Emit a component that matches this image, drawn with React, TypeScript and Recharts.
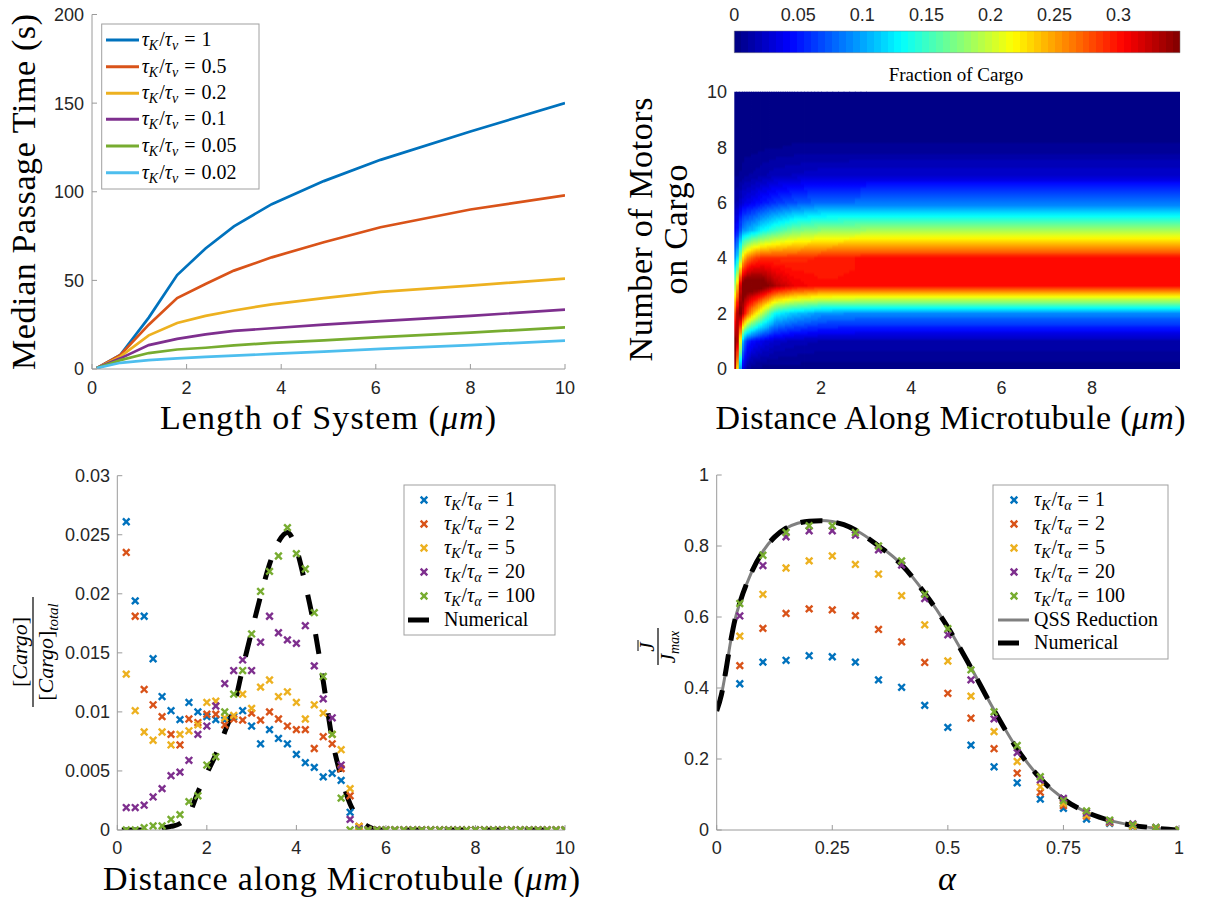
import React from "react";
import { ComposedChart, LineChart, Line, Scatter, XAxis, YAxis, ReferenceArea } from "recharts";

const SERIF = "'Liberation Serif', 'DejaVu Serif', serif";
const SANS = "'Liberation Sans', Arial, sans-serif";
const INK = "#262626";
const AXIS = "#9a9a9a";
const COLORS = ["#0072BD", "#D95319", "#EDB120", "#7E2F8E", "#77AC30", "#4DBEEE"];
const TICK = { fill: INK, fontSize: 18, fontFamily: SANS };
const BIG = 34;

// ---- top left: median passage time vs length
const lengthX = [0.1, 0.6, 1.2, 1.8, 2.4, 3.0, 3.8, 4.9, 6.1, 8.0, 10];
const passageRatios = ["1", "0.5", "0.2", "0.1", "0.05", "0.02"];
const passageR1 = [0.5, 8, 29, 53, 68, 80.5, 93, 106, 118, 134, 150];
const passageR05 = [0.5, 8, 25, 40, 48, 55.5, 63, 71.5, 80, 90, 98];
const passageR02 = [0.5, 7, 19, 26, 30, 33, 36.5, 40, 43.5, 47, 51];
const passageR01 = [0.5, 6, 13.5, 17, 19.5, 21.5, 23, 25, 27, 30, 33.5];
const passageR005 = [0.5, 5, 9, 11, 12, 13.3, 14.7, 16.2, 18, 20.5, 23.5];
const passageR002 = [0.5, 3.5, 5, 6, 6.8, 7.5, 8.5, 9.8, 11.3, 13.5, 16];
const passageSeries = [passageR1, passageR05, passageR02, passageR01, passageR005, passageR002];
const passageTicksX = [0, 2, 4, 6, 8, 10];
const passageTicksY = [0, 50, 100, 150, 200];

// ---- top right: fraction of cargo with n motors along the microtubule
const heatX = [0.08, 0.12, 0.18, 0.25, 0.35, 0.5, 0.7, 1.0, 1.4, 2.0, 3.0, 9.95];
const motorN = [0, 1, 2, 3, 4, 5, 6, 7, 8, 9, 10];
const fracAt008 = [0.36, 0.34, 0.27, 0.17, 0.09, 0.04, 0.015, 0.005, 0, 0, 0];
const fracAt012 = [0.3, 0.36, 0.3, 0.2, 0.1, 0.04, 0.015, 0.005, 0, 0, 0];
const fracAt018 = [0.15, 0.3, 0.36, 0.28, 0.14, 0.06, 0.02, 0.005, 0, 0, 0];
const fracAt025 = [0.04, 0.12, 0.34, 0.36, 0.22, 0.09, 0.03, 0.008, 0.002, 0, 0];
const fracAt035 = [0.01, 0.06, 0.28, 0.37, 0.26, 0.1, 0.035, 0.01, 0.003, 0, 0];
const fracAt05 = [0.003, 0.045, 0.24, 0.37, 0.28, 0.11, 0.04, 0.012, 0.003, 0, 0];
const fracAt07 = [0.002, 0.035, 0.19, 0.36, 0.29, 0.13, 0.05, 0.015, 0.004, 0.001, 0];
const fracAt1 = [0.002, 0.025, 0.13, 0.33, 0.29, 0.15, 0.06, 0.02, 0.005, 0.001, 0];
const fracAt14 = [0.002, 0.02, 0.11, 0.31, 0.29, 0.17, 0.07, 0.022, 0.006, 0.001, 0];
const fracAt2 = [0.002, 0.016, 0.095, 0.3, 0.295, 0.18, 0.08, 0.026, 0.006, 0.001, 0];
const fracAt3 = [0.002, 0.015, 0.09, 0.3, 0.3, 0.185, 0.082, 0.027, 0.006, 0.001, 0];
const fracAt10 = [0.002, 0.015, 0.09, 0.3, 0.3, 0.185, 0.082, 0.027, 0.006, 0.001, 0];
const heatCols = [fracAt008, fracAt012, fracAt018, fracAt025, fracAt035, fracAt05, fracAt07, fracAt1, fracAt14, fracAt2, fracAt3, fracAt10];
const heatTicksX = [2, 4, 6, 8];
const heatTicksY = [0, 2, 4, 6, 8, 10];
const cbTicks = [0, 0.05, 0.1, 0.15, 0.2, 0.25, 0.3];
const cbMax = 0.348;

// ---- bottom left: cargo profile
const cargoX = [0.2, 0.4, 0.6, 0.8, 1, 1.2, 1.4, 1.6, 1.8, 2, 2.2, 2.4, 2.6, 2.8, 3, 3.2, 3.4, 3.6, 3.8, 4, 4.2, 4.4, 4.6, 4.8, 5, 5.2, 5.4, 5.6, 5.8, 6, 6.2, 6.4, 6.6, 6.8, 7, 7.2, 7.4, 7.6, 7.8, 8, 8.2, 8.4, 8.6, 8.8, 9, 9.2, 9.4, 9.6, 9.8, 10];
const cargoRatios = ["1", "2", "5", "20", "100"];
const tail = [0, 0, 0, 0, 0, 0, 0, 0, 0, 0, 0, 0, 0, 0, 0, 0, 0, 0, 0, 0, 0, 0, 0];
const cargoT1 = [0.0261, 0.0194, 0.0181, 0.0145, 0.0113, 0.0101, 0.00935, 0.0108, 0.01, 0.0096, 0.00935, 0.0093, 0.0096, 0.0101, 0.0088, 0.0073, 0.0085, 0.00775, 0.0073, 0.0064, 0.0057, 0.0053, 0.0045, 0.0048, 0.0042, 0.0015, 0.0001, ...tail];
const cargoT2 = [0.0235, 0.0181, 0.0119, 0.0106, 0.0096, 0.0081, 0.0072, 0.0094, 0.0091, 0.0098, 0.0098, 0.0089, 0.0094, 0.0093, 0.0099, 0.0093, 0.01, 0.0094, 0.0088, 0.0085, 0.0085, 0.0069, 0.0079, 0.0073, 0.0052, 0.0029, 0.0003, ...tail];
const cargoT5 = [0.0132, 0.0101, 0.0083, 0.0076, 0.0083, 0.0072, 0.0081, 0.0084, 0.0089, 0.0108, 0.0109, 0.0095, 0.0097, 0.0115, 0.0103, 0.0121, 0.0127, 0.0113, 0.0117, 0.0108, 0.0094, 0.0106, 0.0099, 0.0081, 0.0068, 0.0035, 0.0003, ...tail];
const cargoT20 = [0.0019, 0.0019, 0.0021, 0.0028, 0.0035, 0.0046, 0.0049, 0.0059, 0.0081, 0.0088, 0.0105, 0.0124, 0.0135, 0.0144, 0.0135, 0.0159, 0.0181, 0.0167, 0.0161, 0.0158, 0.0173, 0.0139, 0.0111, 0.0095, 0.0055, 0.0009, 0.0001, ...tail];
const cargoT100 = [0, 0, 0.0002, 0.00035, 0.00035, 0.0009, 0.0013, 0.0024, 0.0029, 0.0055, 0.0062, 0.01, 0.0115, 0.0135, 0.0166, 0.0202, 0.0219, 0.0232, 0.0256, 0.0234, 0.0221, 0.0184, 0.013, 0.0081, 0.0027, 0, 0, ...tail];
const cargoSeries = [cargoT1, cargoT2, cargoT5, cargoT20, cargoT100];
const cargoNumX = [0.1, 0.5, 0.9, 1.0, 1.2, 1.4, 1.6, 1.8, 2.0, 2.2, 2.4, 2.6, 2.8, 3.0, 3.2, 3.4, 3.6, 3.8, 4.0, 4.2, 4.4, 4.6, 4.8, 5.0, 5.2, 5.4, 5.6, 5.8, 6.0, 10];
const cargoNumY = [0, 0, 0.00005, 0.00015, 0.0003, 0.00055, 0.0013, 0.0032, 0.0048, 0.0064, 0.0083, 0.0104, 0.0137, 0.0168, 0.0198, 0.0225, 0.0244, 0.0252, 0.0238, 0.0208, 0.0172, 0.0126, 0.0077, 0.0045, 0.0022, 0.00095, 0.0003, 0.00005, 0, 0];
const cargoTicksX = [0, 2, 4, 6, 8, 10];
const cargoTicksY = [0, 0.005, 0.01, 0.015, 0.02, 0.025, 0.03];

// ---- bottom right: flux vs alpha
const alphaX = [0.05, 0.1, 0.15, 0.2, 0.25, 0.3, 0.35, 0.4, 0.45, 0.5, 0.55, 0.6, 0.65, 0.7, 0.75, 0.8, 0.85, 0.9, 0.95, 1];
const fluxT1 = [0.412, 0.473, 0.478, 0.491, 0.488, 0.473, 0.423, 0.402, 0.351, 0.289, 0.239, 0.178, 0.133, 0.087, 0.061, 0.031, 0.019, 0.009, 0.003, 0];
const fluxT2 = [0.463, 0.568, 0.61, 0.623, 0.62, 0.604, 0.565, 0.53, 0.472, 0.385, 0.315, 0.229, 0.16, 0.106, 0.069, 0.039, 0.021, 0.011, 0.003, 0];
const fluxT5 = [0.546, 0.664, 0.738, 0.758, 0.772, 0.748, 0.721, 0.66, 0.578, 0.476, 0.377, 0.277, 0.193, 0.122, 0.075, 0.042, 0.022, 0.011, 0.004, 0];
const fluxT20 = [0.603, 0.745, 0.826, 0.843, 0.843, 0.831, 0.789, 0.746, 0.652, 0.55, 0.423, 0.313, 0.218, 0.141, 0.089, 0.049, 0.024, 0.017, 0.007, 0];
const fluxT100 = [0.638, 0.774, 0.838, 0.857, 0.857, 0.838, 0.8, 0.758, 0.664, 0.567, 0.451, 0.333, 0.238, 0.15, 0.083, 0.054, 0.028, 0.015, 0.007, 0];
const fluxSeries = [fluxT1, fluxT2, fluxT5, fluxT20, fluxT100];
const curveX = [0, 0.01, 0.02, 0.03, 0.04, 0.05, 0.075, 0.1, 0.125, 0.15, 0.175, 0.2, 0.225, 0.25, 0.275, 0.3, 0.35, 0.4, 0.45, 0.5, 0.55, 0.6, 0.65, 0.7, 0.75, 0.8, 0.85, 0.9, 0.95, 1];
const qssY = [0.335, 0.38, 0.45, 0.53, 0.595, 0.64, 0.725, 0.785, 0.825, 0.85, 0.864, 0.87, 0.872, 0.869, 0.86, 0.845, 0.802, 0.748, 0.668, 0.572, 0.458, 0.338, 0.229, 0.146, 0.088, 0.05, 0.027, 0.013, 0.005, 0];
const numericalY = [0.335, 0.38, 0.45, 0.53, 0.595, 0.64, 0.725, 0.785, 0.825, 0.85, 0.864, 0.87, 0.871, 0.868, 0.86, 0.845, 0.8, 0.747, 0.667, 0.571, 0.457, 0.337, 0.228, 0.145, 0.087, 0.05, 0.027, 0.013, 0.005, 0];
const fluxTicksX = [0, 0.25, 0.5, 0.75, 1];
const fluxTicksY = [0, 0.2, 0.4, 0.6, 0.8, 1];

const pts = (xs: number[], ys: number[]) => xs.map((x, i) => ({ x, y: ys[i] }));

const jet = (t: number) => {
  const c = (v: number) => Math.round(255 * Math.max(0, Math.min(1, v)));
  return `rgb(${c(1.5 - Math.abs(4 * t - 3))},${c(1.5 - Math.abs(4 * t - 2))},${c(1.5 - Math.abs(4 * t - 1))})`;
};
const jet64 = (v: number) => {
  const idx = Math.max(0, Math.min(63, Math.floor((v / cbMax) * 64)));
  return jet((idx + 0.5) / 64);
};

// shading between the measured columns / motor counts (like shading interp)
const strips = (() => {
  const out: { id: string; x1: number; x2: number; col: number[] }[] = [];
  for (let i = 0; i < heatX.length - 1; i++) {
    const a = heatX[i];
    const b = heatX[i + 1];
    const n = i === heatX.length - 2 ? 1 : Math.max(1, Math.min(8, Math.round((b - a) * 20)));
    for (let k = 0; k < n; k++) {
      const w = (k + 0.5) / n;
      out.push({
        id: `hs${out.length}`,
        x1: a + ((b - a) * k) / n,
        x2: Math.min(heatX[heatX.length - 1], a + ((b - a) * (k + 1)) / n + 0.02),
        col: motorN.map((m) => heatCols[i][m] * (1 - w) + heatCols[i + 1][m] * w),
      });
    }
  }
  return out;
})();

const stripStops = (col: number[]) => {
  const stops: { off: number; c: string }[] = [];
  const SUB = 10;
  for (let m = 10; m >= 1; m--) {
    for (let s = 0; s < SUB; s++) {
      const v = col[m] + (col[m - 1] - col[m]) * (s / SUB);
      stops.push({ off: (10 - (m - s / SUB)) / 10, c: jet64(v) });
    }
  }
  stops.push({ off: 1, c: jet64(col[0]) });
  return stops;
};

const xMark = (color: string) => (props: any) => {
  const { cx, cy } = props;
  if (cx == null || cy == null) return <g />;
  const s = 3.3;
  return (
    <g>
      <line x1={cx - s} y1={cy - s} x2={cx + s} y2={cy + s} stroke={color} strokeWidth={2.4} />
      <line x1={cx - s} y1={cy + s} x2={cx + s} y2={cy - s} stroke={color} strokeWidth={2.4} />
    </g>
  );
};
const noMark = () => <g />;

const TauLabel = ({ x, y, sub, val }: { x: number; y: number; sub: string; val: string }) => (
  <text x={x} y={y} fontFamily={SERIF} fontSize={20} fill="#000">
    <tspan fontStyle="italic">τ</tspan>
    <tspan fontStyle="italic" fontSize={14} dy={4}>K</tspan>
    <tspan dy={-4} dx={1}>/</tspan>
    <tspan fontStyle="italic">τ</tspan>
    <tspan fontStyle="italic" fontSize={14} dy={4}>{sub}</tspan>
    <tspan dy={-4} dx={6}>=</tspan>
    <tspan dx={6}>{val}</tspan>
  </text>
);

const abs = (left: number, top: number): React.CSSProperties => ({ position: "absolute", left, top });

export default function App() {
  const legend1Rows = [40, 66.7, 93.3, 119.3, 146, 172.7];
  const legend3Rows = [500, 524, 548, 572, 596, 620];
  const legend4Rows = [500, 524, 548, 572, 596, 620, 643];
  const heatData = heatX.map((x) => ({ x, y: 5 }));
  const cbData = cbTicks.map((x) => ({ x, y: 0.5 }));
  return (
    <div style={{ position: "absolute", left: 0, top: 0, width: 1207, height: 899, background: "#fff", overflow: "hidden" }}>
      <svg width={1} height={1} style={{ position: "absolute", left: 0, top: 0 }}>
        <defs>
          {strips.map((s) => (
            <linearGradient key={s.id} id={s.id} x1="0" y1="0" x2="0" y2="1">
              {stripStops(s.col).map((st, j) => (
                <stop key={j} offset={st.off} stopColor={st.c} />
              ))}
            </linearGradient>
          ))}
          <linearGradient id="cbGrad" x1="0" y1="0" x2="1" y2="0">
            {Array.from({ length: 64 }).flatMap((_, k) => [
              <stop key={`a${k}`} offset={k / 64} stopColor={jet((k + 0.5) / 64)} />,
              <stop key={`b${k}`} offset={(k + 1) / 64} stopColor={jet((k + 0.5) / 64)} />,
            ])}
          </linearGradient>
        </defs>
      </svg>

      {/* top left */}
      <div style={abs(0, 0)}>
        <LineChart width={600} height={420} margin={{ top: 14.5, right: 35, bottom: 11, left: 0 }}>
          <XAxis type="number" dataKey="x" domain={[0, 10]} ticks={passageTicksX} interval={0} allowDataOverflow height={40}
            tickSize={-5} tickMargin={17.5} axisLine={{ stroke: AXIS }} tickLine={{ stroke: AXIS }} tick={TICK} />
          <YAxis type="number" domain={[0, 200]} ticks={passageTicksY} interval={0} allowDataOverflow width={92}
            tickSize={-5} tickMargin={13} axisLine={{ stroke: AXIS }} tickLine={{ stroke: AXIS }} tick={TICK} />
          {passageSeries.map((ys, i) => (
            <Line key={i} data={pts(lengthX, ys)} dataKey="y" type="linear" stroke={COLORS[i]} strokeWidth={2.7}
              dot={false} activeDot={false} isAnimationActive={false} />
          ))}
        </LineChart>
      </div>

      {/* colorbar */}
      <div style={abs(600, 0)}>
        <ComposedChart width={607} height={60} data={cbData} margin={{ top: 0, right: 27, bottom: 7.3, left: 134.3 }}>
          <XAxis type="number" dataKey="x" orientation="top" domain={[0, cbMax]} ticks={cbTicks} interval={0} allowDataOverflow height={31}
            tickSize={0} tickMargin={10.5} axisLine={false} tickLine={false} tick={TICK} />
          <YAxis type="number" dataKey="y" domain={[0, 1]} hide />
          <Scatter dataKey="y" shape={noMark} isAnimationActive={false} />
          <ReferenceArea x1={0} x2={cbMax} y1={0} y2={1} fill="url(#cbGrad)" fillOpacity={1} stroke="#777" strokeWidth={0.5} />
        </ComposedChart>
      </div>

      {/* heatmap */}
      <div style={abs(600, 80)}>
        <ComposedChart width={607} height={340} data={heatData} margin={{ top: 11.7, right: 27, bottom: 11, left: 0 }}>
          <XAxis type="number" dataKey="x" domain={[heatX[0], heatX[heatX.length - 1]]} ticks={heatTicksX} interval={0} allowDataOverflow height={40}
            tickSize={0} tickMargin={12.5} axisLine={false} tickLine={false} tick={TICK} />
          <YAxis type="number" dataKey="y" domain={[0, 10]} ticks={heatTicksY} interval={0} allowDataOverflow width={134.3}
            tickSize={0} tickMargin={7.3} axisLine={false} tickLine={false} tick={TICK} />
          <Scatter dataKey="y" shape={noMark} isAnimationActive={false} />
          {strips.map((s) => (
            <ReferenceArea key={s.id} x1={s.x1} x2={s.x2} y1={0} y2={10} fill={`url(#${s.id})`} fillOpacity={1} stroke="none" />
          ))}
        </ComposedChart>
      </div>

      {/* bottom left */}
      <div style={abs(0, 440)}>
        <ComposedChart width={600} height={440} margin={{ top: 35.7, right: 35, bottom: 10, left: 0 }}>
          <XAxis type="number" dataKey="x" domain={[0, 10]} ticks={cargoTicksX} interval={0} allowDataOverflow height={40}
            tickSize={-5} tickMargin={16.5} axisLine={{ stroke: AXIS }} tickLine={{ stroke: AXIS }} tick={TICK} />
          <XAxis xAxisId="top" dataKey="x" orientation="top" type="number" domain={[0, 10]} ticks={cargoTicksX} interval={0} allowDataOverflow height={0}
            tickSize={-5} axisLine={{ stroke: AXIS }} tickLine={{ stroke: AXIS }} tick={false} />
          <YAxis type="number" dataKey="y" domain={[0, 0.03]} ticks={cargoTicksY} interval={0} allowDataOverflow width={117.3}
            tickSize={-5} tickMargin={12.3} axisLine={{ stroke: AXIS }} tickLine={{ stroke: AXIS }} tick={TICK} />
          <YAxis yAxisId="right" dataKey="y" orientation="right" type="number" domain={[0, 0.03]} ticks={cargoTicksY} interval={0} allowDataOverflow width={0}
            tickSize={-5} axisLine={{ stroke: AXIS }} tickLine={{ stroke: AXIS }} tick={false} />
          <Scatter xAxisId="top" yAxisId="right" data={pts(cargoNumX, cargoNumY)} dataKey="y" shape={noMark} isAnimationActive={false} />
          {cargoSeries.map((ys, i) => (
            <Scatter key={i} data={pts(cargoX, ys)} dataKey="y" shape={xMark(COLORS[i])} isAnimationActive={false} />
          ))}
          <Line data={pts(cargoNumX, cargoNumY)} dataKey="y" type="monotone" stroke="#000" strokeWidth={5}
            strokeDasharray="20 20" dot={false} activeDot={false} isAnimationActive={false} />
        </ComposedChart>
      </div>

      {/* bottom right */}
      <div style={abs(600, 440)}>
        <ComposedChart width={607} height={440} margin={{ top: 35, right: 28, bottom: 10, left: 0 }}>
          <XAxis type="number" dataKey="x" domain={[0, 1]} ticks={fluxTicksX} interval={0} allowDataOverflow height={40}
            tickSize={-5} tickMargin={16.5} axisLine={{ stroke: AXIS }} tickLine={{ stroke: AXIS }} tick={TICK} />
          <YAxis type="number" dataKey="y" domain={[0, 1]} ticks={fluxTicksY} interval={0} allowDataOverflow width={116.7}
            tickSize={-5} tickMargin={12.7} axisLine={{ stroke: AXIS }} tickLine={{ stroke: AXIS }} tick={TICK} />
          {fluxSeries.map((ys, i) => (
            <Scatter key={i} data={pts(alphaX, ys)} dataKey="y" shape={xMark(COLORS[i])} isAnimationActive={false} />
          ))}
          <Line data={pts(curveX, qssY)} dataKey="y" type="monotone" stroke="#808080" strokeWidth={3}
            dot={false} activeDot={false} isAnimationActive={false} />
          <Line data={pts(curveX, numericalY)} dataKey="y" type="monotone" stroke="#000" strokeWidth={5}
            strokeDasharray="22 14" dot={false} activeDot={false} isAnimationActive={false} />
        </ComposedChart>
      </div>

      {/* text + legends */}
      <svg width={1207} height={899} style={{ position: "absolute", left: 0, top: 0, pointerEvents: "none" }}>
        {/* top left labels */}
        <text transform="translate(35,192) rotate(-90)" textAnchor="middle" fontFamily={SERIF} fontSize={BIG} fill="#000"
          textLength={356} lengthAdjust="spacing">
          Median Passage Time (s)
        </text>
        <text x={328} y={429} textAnchor="middle" fontFamily={SERIF} fontSize={BIG} fill="#000" textLength={336} lengthAdjust="spacing">
          Length of System (<tspan fontStyle="italic">μm</tspan>)
        </text>
        <rect x={101.7} y={24} width={157.3} height={165} fill="#fff" stroke="#a0a0a0" strokeWidth={1} />
        {passageRatios.map((r, i) => (
          <g key={r}>
            <line x1={106} x2={139} y1={legend1Rows[i]} y2={legend1Rows[i]} stroke={COLORS[i]} strokeWidth={3} />
            <TauLabel x={141.7} y={legend1Rows[i] + 6} sub="v" val={r} />
          </g>
        ))}

        {/* top right labels */}
        <text x={956} y={81} textAnchor="middle" fontFamily={SERIF} fontSize={19} fill="#000">Fraction of Cargo</text>
        <text transform="translate(652,229.5) rotate(-90)" textAnchor="middle" fontFamily={SERIF} fontSize={BIG} fill="#000"
          textLength={264} lengthAdjust="spacing">
          Number of Motors
        </text>
        <text transform="translate(687,229.5) rotate(-90)" textAnchor="middle" fontFamily={SERIF} fontSize={BIG} fill="#000"
          textLength={130} lengthAdjust="spacing">
          on Cargo
        </text>
        <text x={950.5} y={429} textAnchor="middle" fontFamily={SERIF} fontSize={BIG} fill="#000" textLength={470} lengthAdjust="spacing">
          Distance Along Microtubule (<tspan fontStyle="italic">μm</tspan>)
        </text>

        {/* bottom left labels */}
        <g transform="translate(33,652) rotate(-90)" fontFamily={SERIF} fill="#000">
          <text x={0} y={-6} textAnchor="middle" fontSize={22}>
            [<tspan fontStyle="italic">Cargo</tspan>]
          </text>
          <line x1={-55} x2={55} y1={0} y2={0} stroke="#000" strokeWidth={1.2} />
          <text x={0} y={20} textAnchor="middle" fontSize={22}>
            [<tspan fontStyle="italic">Cargo</tspan>]<tspan fontStyle="italic" fontSize={15} dy={5}>total</tspan>
          </text>
        </g>
        <text x={341.5} y={890} textAnchor="middle" fontFamily={SERIF} fontSize={BIG} fill="#000" textLength={477} lengthAdjust="spacing">
          Distance along Microtubule (<tspan fontStyle="italic">μm</tspan>)
        </text>
        <rect x={404} y={485} width={151} height={150} fill="#fff" stroke="#a0a0a0" strokeWidth={1} />
        {cargoRatios.map((r, i) => (
          <g key={r}>
            {xMark(COLORS[i])({ cx: 424, cy: legend3Rows[i] })}
            <TauLabel x={444} y={legend3Rows[i] + 6} sub="α" val={r} />
          </g>
        ))}
        <line x1={408} x2={429} y1={legend3Rows[5]} y2={legend3Rows[5]} stroke="#000" strokeWidth={5} />
        <text x={444} y={legend3Rows[5] + 6} fontFamily={SERIF} fontSize={20} fill="#000">Numerical</text>

        {/* bottom right labels */}
        <g transform="translate(658,647) rotate(-90)" fontFamily={SERIF} fill="#000">
          <text x={0} y={-4} textAnchor="middle" fontSize={21} fontStyle="italic">J</text>
          <line x1={-4} x2={7} y1={-20} y2={-20} stroke="#000" strokeWidth={1} />
          <line x1={-18} x2={19} y1={0} y2={0} stroke="#000" strokeWidth={1.2} />
          <text x={0} y={17} textAnchor="middle" fontSize={21} fontStyle="italic">
            J<tspan fontSize={14} dy={4}>max</tspan>
          </text>
        </g>
        <text x={947} y={890} textAnchor="middle" fontFamily={SERIF} fontSize={BIG} fontStyle="italic" fill="#000">α</text>
        <rect x={993} y={485} width={175} height={174} fill="#fff" stroke="#a0a0a0" strokeWidth={1} />
        {cargoRatios.map((r, i) => (
          <g key={r}>
            {xMark(COLORS[i])({ cx: 1014, cy: legend4Rows[i] })}
            <TauLabel x={1034} y={legend4Rows[i] + 6} sub="α" val={r} />
          </g>
        ))}
        <line x1={998} x2={1029} y1={legend4Rows[5]} y2={legend4Rows[5]} stroke="#808080" strokeWidth={3} />
        <text x={1034} y={legend4Rows[5] + 6} fontFamily={SERIF} fontSize={20} fill="#000">QSS Reduction</text>
        <line x1={998} x2={1019} y1={legend4Rows[6]} y2={legend4Rows[6]} stroke="#000" strokeWidth={5} />
        <text x={1034} y={legend4Rows[6] + 6} fontFamily={SERIF} fontSize={20} fill="#000">Numerical</text>
      </svg>
    </div>
  );
}
